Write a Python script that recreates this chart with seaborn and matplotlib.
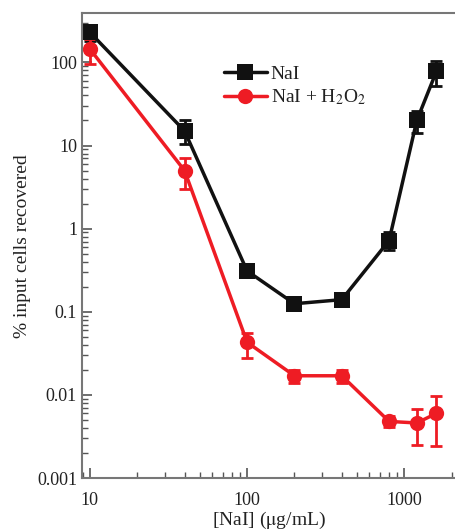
import numpy as np
import pandas as pd
import seaborn as sns
import matplotlib.pyplot as plt
from matplotlib.ticker import LogLocator, NullFormatter

# data
conc = [10, 40, 100, 200, 400, 800, 1200, 1600]
nai = [230, 15, 0.31, 0.125, 0.14, 0.72, 20, 78]
nai_lo = [180, 10.5, 0.26, 0.11, 0.12, 0.55, 14, 52]
nai_hi = [270, 20, 0.36, 0.14, 0.16, 0.92, 26, 105]
nai_h2o2 = [145, 5.0, 0.043, 0.017, 0.017, 0.0048, 0.0046, 0.006]
h2o2_lo = [95, 3.0, 0.028, 0.014, 0.014, 0.0041, 0.0025, 0.0024]
h2o2_hi = [190, 7.0, 0.056, 0.020, 0.020, 0.0056, 0.0068, 0.0096]
labels = ['NaI', r'NaI + H$_2$O$_2$']

sns.set_theme(style='white')
plt.rcParams['font.family'] = ['Liberation Serif', 'DejaVu Serif']
plt.rcParams['mathtext.fontset'] = 'stix'

df = pd.DataFrame({
    'conc': conc * 2,
    'val': nai + nai_h2o2,
    'series': [labels[0]] * len(conc) + [labels[1]] * len(conc),
})

fig = plt.figure(figsize=(4.55, 5.3), dpi=100)
ax = fig.add_axes([0.18, 0.098, 0.82, 0.877])

colors = {labels[0]: '#111111', labels[1]: '#ee1c24'}
sns.lineplot(data=df, x='conc', y='val', hue='series', style='series',
             markers={labels[0]: 's', labels[1]: 'o'}, dashes=False,
             palette=colors, linewidth=2.5, markersize=11, ax=ax,
             markeredgewidth=0)

# error bars
for y, lo, hi, c in [(nai, nai_lo, nai_hi, colors[labels[0]]),
                     (nai_h2o2, h2o2_lo, h2o2_hi, colors[labels[1]])]:
    y = np.array(y)
    err = [y - np.array(lo), np.array(hi) - y]
    ax.errorbar(conc, y, yerr=err, fmt='none', ecolor=c, elinewidth=2,
                capsize=4, capthick=2, zorder=1)

ax.set_xscale('log')
ax.set_yscale('log')
ax.set_xlim(8.9, 2100)
ax.set_ylim(0.001, 390)

ax.set_yticks([0.001, 0.01, 0.1, 1, 10, 100])
ax.set_yticklabels(['0.001', '0.01', '0.1', '1', '10', '100'])
ax.set_xticks([10, 100, 1000])
ax.set_xticklabels(['10', '100', '1000'])
ax.yaxis.set_minor_locator(LogLocator(base=10, subs=np.arange(2, 10)))
ax.xaxis.set_minor_locator(LogLocator(base=10, subs=np.arange(2, 10)))
ax.yaxis.set_minor_formatter(NullFormatter())
ax.xaxis.set_minor_formatter(NullFormatter())

ax.tick_params(which='both', direction='in', colors='#555555', labelcolor='#222222',
               labelsize=13, bottom=True, left=True)
ax.tick_params(which='major', length=7, width=1.2)
ax.tick_params(which='minor', length=4, width=1)
ax.tick_params(axis='x', which='major', pad=10)

for s in ['left', 'bottom', 'top']:
    ax.spines[s].set_color('#777777')
    ax.spines[s].set_linewidth(1.5)
ax.spines['right'].set_visible(False)

ax.set_xlabel(r'[NaI] ($\mathrm{\mu}$g/mL)', fontsize=14, color='#222222', labelpad=1)
ax.set_ylabel('% input cells recovered', fontsize=14, color='#222222', labelpad=4)

leg = ax.legend(loc='upper left', bbox_to_anchor=(0.36, 0.905), frameon=False,
                fontsize=14, handlelength=2.2, handletextpad=0.2,
                labelspacing=0.25, borderaxespad=0)
for t in leg.get_texts():
    t.set_color('#222222')

fig.savefig('out.png', dpi=100)
